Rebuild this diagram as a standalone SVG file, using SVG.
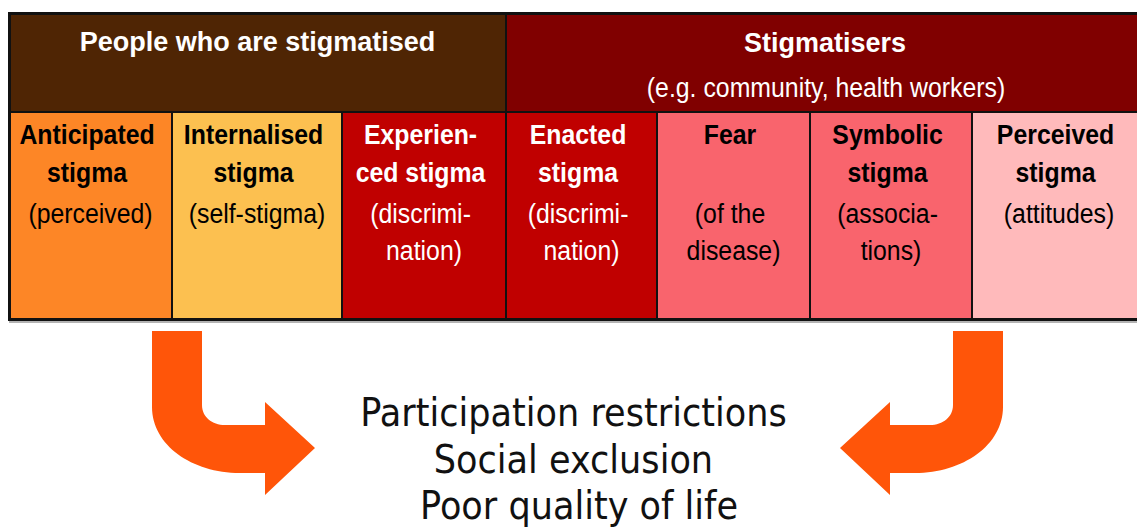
<svg xmlns="http://www.w3.org/2000/svg" width="1137" height="529" viewBox="0 0 1137 529">
  <style>
    .hd { font-family: "Liberation Sans", Arial, sans-serif; font-size: 27px; font-weight: bold; fill: #ffffff; text-anchor: middle; }
    .ct { font-family: "Liberation Sans", Arial, sans-serif; font-size: 27px; text-anchor: middle; }
    .b { font-weight: bold; }
    .dk { fill: #000000; }
    .lt { fill: #ffffff; }
    .grid { stroke: #111111; stroke-width: 2; fill: none; }
    .outer { stroke: #111111; stroke-width: 3; fill: none; }
    .arrow { fill: #FF5509; }
    .res { font-family: "DejaVu Sans", Verdana, sans-serif; font-size: 39px; fill: #111111; text-anchor: middle; }
  </style>
  <defs>
    <path id="curvedArrow" d="M152,331 H202 V405 C202,417 212,425 225,425 H265 V402 L315,448 L265,495 V473 H240 C192,473 152,445 152,407 Z"/>
  </defs>
  <rect x="0" y="0" width="1137" height="529" fill="#ffffff"/>

  <g id="header-stigmatised">
    <rect x="9" y="13" width="497" height="99" fill="#4F2504"/>
    <text class="hd" x="257.5" y="51">People who are stigmatised</text>
  </g>
  <g id="header-stigmatisers">
    <rect x="506" y="13" width="640" height="99" fill="#800000"/>
    <text class="hd" x="825" y="52">Stigmatisers</text>
    <text class="ct lt" transform="translate(826 0) scale(0.92 1)" x="0" y="97">(e.g. community, health workers)</text>
  </g>

  <g id="anticipated">
    <rect x="9" y="112" width="163" height="208" fill="#FD8626"/>
    <text class="ct dk" transform="translate(90.5 0) scale(0.92 1)">
      <tspan class="b" x="0" y="144">Anticipated</tspan>
      <tspan class="b" x="0" y="182">stigma</tspan>
      <tspan x="0" y="223">(perceived)</tspan>
    </text>
  </g>
  <g id="internalised">
    <rect x="172" y="112" width="170" height="208" fill="#FCC050"/>
    <text class="ct dk" transform="translate(257 0) scale(0.92 1)">
      <tspan class="b" x="0" y="144">Internalised</tspan>
      <tspan class="b" x="0" y="182">stigma</tspan>
      <tspan x="0" y="223">(self-stigma)</tspan>
    </text>
  </g>
  <g id="experienced">
    <rect x="342" y="112" width="164" height="208" fill="#C00000"/>
    <text class="ct lt" transform="translate(424 0) scale(0.92 1)">
      <tspan class="b" x="0" y="144">Experien-</tspan>
      <tspan class="b" x="0" y="182">ced stigma</tspan>
      <tspan x="0" y="223">(discrimi-</tspan>
      <tspan x="0" y="260">nation)</tspan>
    </text>
  </g>
  <g id="enacted">
    <rect x="506" y="112" width="151" height="208" fill="#C00000"/>
    <text class="ct lt" transform="translate(581.5 0) scale(0.92 1)">
      <tspan class="b" x="0" y="144">Enacted</tspan>
      <tspan class="b" x="0" y="182">stigma</tspan>
      <tspan x="0" y="223">(discrimi-</tspan>
      <tspan x="0" y="260">nation)</tspan>
    </text>
  </g>
  <g id="fear">
    <rect x="657" y="112" width="153" height="208" fill="#F9646D"/>
    <text class="ct dk" transform="translate(733.5 0) scale(0.92 1)">
      <tspan class="b" x="0" y="144">Fear</tspan>
      <tspan x="0" y="223">(of the</tspan>
      <tspan x="0" y="260">disease)</tspan>
    </text>
  </g>
  <g id="symbolic">
    <rect x="810" y="112" width="162" height="208" fill="#F9646D"/>
    <text class="ct dk" transform="translate(891 0) scale(0.92 1)">
      <tspan class="b" x="0" y="144">Symbolic</tspan>
      <tspan class="b" x="0" y="182">stigma</tspan>
      <tspan x="0" y="223">(associa-</tspan>
      <tspan x="0" y="260">tions)</tspan>
    </text>
  </g>
  <g id="perceived">
    <rect x="972" y="112" width="174" height="208" fill="#FFBABB"/>
    <text class="ct dk" transform="translate(1059 0) scale(0.92 1)">
      <tspan class="b" x="0" y="144">Perceived</tspan>
      <tspan class="b" x="0" y="182">stigma</tspan>
      <tspan x="0" y="223">(attitudes)</tspan>
    </text>
  </g>

  <g id="table-lines">
    <line class="grid" x1="9" y1="112" x2="1137" y2="112"/>
    <line class="grid" x1="506" y1="13" x2="506" y2="320"/>
    <line class="grid" x1="172" y1="112" x2="172" y2="320"/>
    <line class="grid" x1="342" y1="112" x2="342" y2="320"/>
    <line class="grid" x1="657" y1="112" x2="657" y2="320"/>
    <line class="grid" x1="810" y1="112" x2="810" y2="320"/>
    <line class="grid" x1="972" y1="112" x2="972" y2="320"/>
    <path class="outer" d="M1140,13.5 H9.5 V319.5 H1140"/>
    <line x1="9" y1="322" x2="1137" y2="322" stroke="#9a9a9a" stroke-width="1.5"/>
  </g>

  <g id="connectors">
    <use href="#curvedArrow" class="arrow"/>
    <use href="#curvedArrow" class="arrow" transform="translate(1155 0) scale(-1 1)"/>
  </g>

  <g id="outcomes">
    <text class="res" transform="translate(579 0) scale(0.9 1)">
      <tspan x="0" y="426">Participation restrictions</tspan>
      <tspan x="0" y="473">Social exclusion</tspan>
      <tspan x="0" y="519">Poor quality of life</tspan>
    </text>
  </g>
</svg>
